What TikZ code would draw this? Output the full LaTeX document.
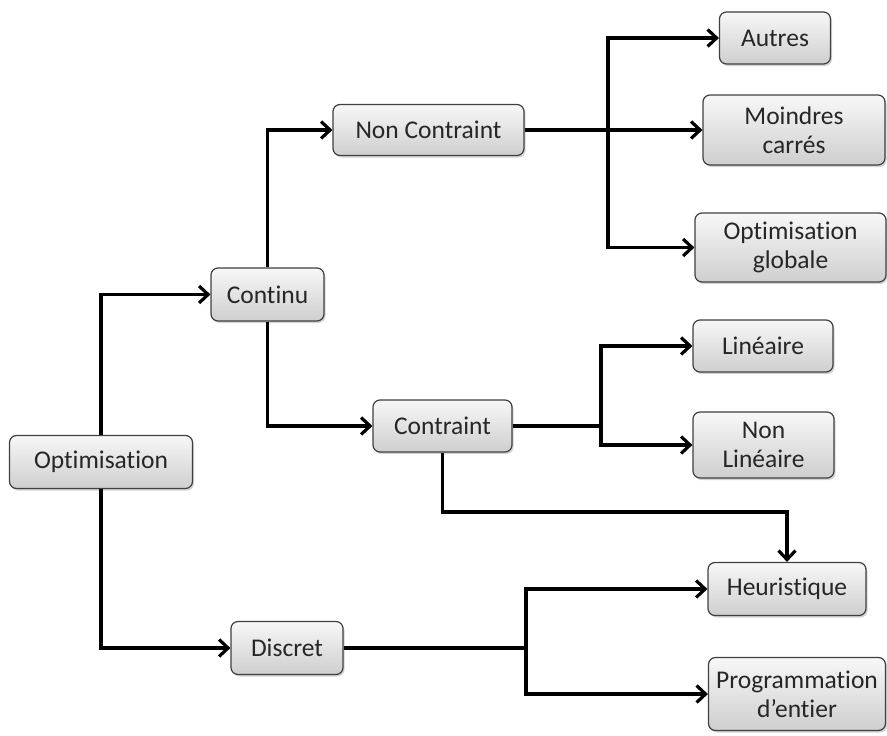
\documentclass[tikz,border=0pt]{standalone}
\usepackage{fontspec}
\setmainfont{Carlito}[Ligatures={NoCommon}]
\usetikzlibrary{arrows.meta,shadows}
\begin{document}
\begin{tikzpicture}[x=1pt,y=-1pt,
  box/.style={draw=black!75,line width=1.2pt,rounded corners=7pt,
    top color=gray!6,bottom color=gray!38,
    drop shadow={shadow xshift=1.5pt,shadow yshift=-2pt,opacity=0.35},
    font=\fontsize{25.5}{29}\selectfont,align=center,inner sep=0pt,text=black!85},
  conn/.style={line width=3.8pt,line join=miter},
  arr/.style={conn,-{Straight Barb[length=9pt,width=17pt,line width=3.2pt]}}]
\useasboundingbox (0,0) rectangle (887,736);
\node[box,minimum width=183pt,minimum height=53pt] (opt) at (101,462) {Optimisation};
\node[box,minimum width=113pt,minimum height=53pt] (cont) at (267.5,294.5) {Continu};
\node[box,minimum width=191pt,minimum height=51pt] (nc) at (428.5,130) {Non Contraint};
\node[box,minimum width=139pt,minimum height=52pt] (ctr) at (442.5,426) {Contraint};
\node[box,minimum width=112pt,minimum height=53pt] (disc) at (287,648) {Discret};
\node[box,minimum width=111pt,minimum height=52pt] (aut) at (775,38) {Autres};
\node[box,minimum width=182pt,minimum height=70pt] (mc) at (794,130) {Moindres\\carrés};
\node[box,minimum width=191pt,minimum height=69pt] (og) at (790.5,247.5) {Optimisation\\globale};
\node[box,minimum width=140pt,minimum height=52pt] (lin) at (763,346) {Linéaire};
\node[box,minimum width=141pt,minimum height=66pt] (nl) at (763.5,445) {Non\\Linéaire};
\node[box,minimum width=158pt,minimum height=53pt] (heu) at (787,589) {Heuristique};
\node[box,minimum width=177pt,minimum height=73pt] (pe) at (797,694) {Programmation\\d’entier};
% Optimisation
\draw[arr] (opt.north) |- (cont.west);
\draw[arr] (opt.south) |- (disc.west);
% Continu
\draw[arr] (cont.north) |- (nc.west);
\draw[arr] (cont.south) |- (ctr.west);
% Non Contraint
\coordinate (j1) at (608,130);
\draw[conn] (nc.east) -- (j1);
\draw[arr] (j1) |- (aut.west);
\draw[arr] (nc.east) -- (mc.west);
\draw[arr] (j1) |- (og.west);
% Contraint
\coordinate (j2) at (601,426);
\draw[conn] (ctr.east) -- (j2);
\draw[arr] (j2) |- (lin.west);
\draw[arr] (j2) |- (nl.west);
\coordinate (cb) at (442.5,512);
\draw[arr] (ctr.south) -- (cb) -| (heu.north);
% Discret
\coordinate (j3) at (526,648);
\draw[conn] (disc.east) -- (j3);
\draw[arr] (j3) |- (heu.west);
\draw[arr] (j3) |- (pe.west);
\end{tikzpicture}
\end{document}
